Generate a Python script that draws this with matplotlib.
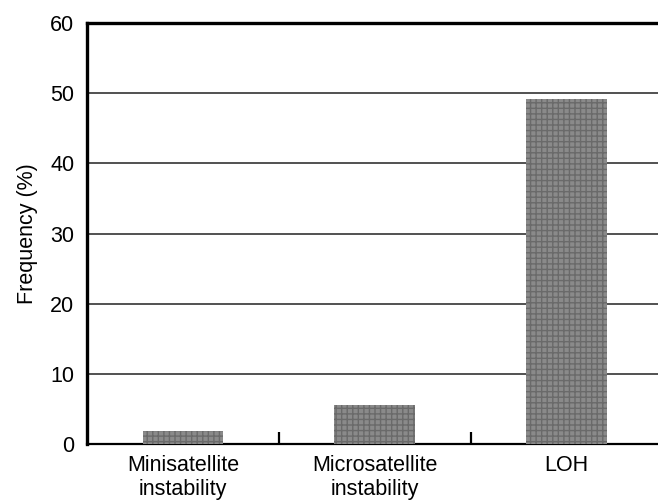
import matplotlib
matplotlib.use('Agg')
import matplotlib.pyplot as plt

categories = ["Minisatellite\ninstability", "Microsatellite\ninstability", "LOH"]
frequency = [1.8, 5.6, 49.1]
yticks = [0, 10, 20, 30, 40, 50, 60]

plt.rcParams['font.family'] = ['Liberation Sans', 'DejaVu Sans']

fig = plt.figure(figsize=(6.58, 5), dpi=100)
ax = fig.add_axes([0.132, 0.112, 0.875, 0.842])

x = list(range(len(categories)))
ax.bar(x, frequency, width=0.42, color='#8a8a8a', edgecolor='#6a6a6a',
       hatch='+++', linewidth=0, zorder=3)

ax.set_xlim(-0.5, 2.5)
ax.set_ylim(0, 60)
ax.set_yticks(yticks)
for v in yticks[1:-1]:
    ax.axhline(v, color='#222222', linewidth=1.1, zorder=1)

ax.set_xticks(x)
ax.set_xticklabels(categories, fontsize=15.5, linespacing=1.15)
ax.tick_params(axis='x', length=0, pad=8)
ax.set_xticks([0.5, 1.5], minor=True)
ax.tick_params(axis='x', which='minor', direction='in', length=9, width=1.6)
ax.tick_params(axis='y', length=0, labelsize=15.5, pad=9)
ax.set_ylabel("Frequency (%)", fontsize=15.5, labelpad=9)

ax.spines['right'].set_visible(False)
ax.spines['left'].set_linewidth(2.4)
ax.spines['top'].set_linewidth(2.4)
ax.spines['bottom'].set_linewidth(1.6)

plt.savefig('out.png')
plt.close()
